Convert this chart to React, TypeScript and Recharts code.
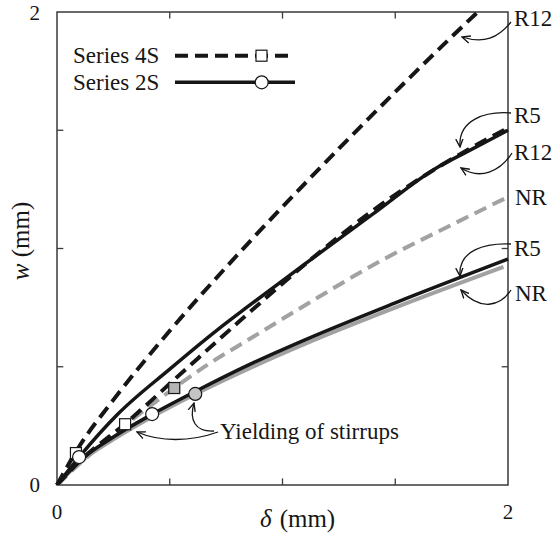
import React from "react";
import {
  ComposedChart,
  Line,
  Scatter,
  XAxis,
  YAxis,
  ReferenceArea,
  ReferenceLine,
  Legend,
  Label,
} from "recharts";

const FONT = '"Liberation Serif", "Times New Roman", serif';
const INK = "#161616";
const GREY = "#a2a2a2";

// delta (mm) / w (mm)
const d4S_R12 = [0, 0.1, 0.25, 0.5, 0.75, 1.0, 1.25, 1.5, 1.75, 2.0];
const w4S_R12 = [0, 0.165, 0.36, 0.652, 0.921, 1.176, 1.422, 1.662, 1.895, 2.12];

const d4S_R5 = [0, 0.1, 0.3, 0.56, 0.83, 1.14, 1.4, 1.6, 1.79, 2.0];
const w4S_R5 = [0, 0.1, 0.257, 0.48, 0.71, 0.965, 1.16, 1.29, 1.4, 1.51];

const d4S_NR = [0, 0.1, 0.3, 0.52, 0.67, 0.85, 1.1, 1.44, 1.75, 2.0];
const w4S_NR = [0, 0.09, 0.25, 0.41, 0.51, 0.615, 0.76, 0.95, 1.1, 1.218];

const d2S_R12 = [0, 0.1, 0.27, 0.5, 0.71, 0.85, 1.1, 1.4, 1.69, 1.8, 2.0];
const w2S_R12 = [0, 0.12, 0.3, 0.49, 0.655, 0.757, 0.935, 1.145, 1.345, 1.4, 1.5];

const d2S_R5 = [0, 0.1, 0.25, 0.42, 0.6, 0.85, 1.1, 1.5, 2.0];
const w2S_R5 = [0, 0.102, 0.203, 0.298, 0.389, 0.508, 0.614, 0.77, 0.955];

const d2S_NR = [0, 0.1, 0.25, 0.42, 0.61, 0.85, 1.12, 1.5, 1.98];
const w2S_NR = [0, 0.095, 0.193, 0.288, 0.383, 0.492, 0.605, 0.75, 0.922];

// yielding of stirrups: [R12, R5, NR]
const yieldD4S = [0.084, 0.302, 0.52];
const yieldW4S = [0.135, 0.257, 0.41];
const yieldD2S = [0.098, 0.422, 0.613];
const yieldW2S = [0.118, 0.3, 0.385];

const axisTicks = [0, 2];
const innerTicks = [0.5, 1, 1.5];

const zip = (xs: number[], ys: number[]) => xs.map((x, i) => ({ x, y: ys[i] }));

const square = (fill: string) => (p: any) => (
  <rect x={p.cx - 5.5} y={p.cy - 5.5} width={11} height={11} fill={fill} stroke={INK} strokeWidth={1.2} />
);
const circle = (fill: string) => (p: any) => (
  <circle cx={p.cx} cy={p.cy} r={6.5} fill={fill} stroke={INK} strokeWidth={1.2} />
);

function LegendBox() {
  return (
    <svg width={240} height={60} style={{ display: "block", overflow: "visible" }}>
      <g fontFamily={FONT} fontSize={23} fill={INK}>
        <text x={7} y={25}>Series 4S</text>
        <text x={7} y={52}>Series 2S</text>
      </g>
      <line x1={109} y1={17.7} x2={229} y2={17.7} stroke={INK} strokeWidth={4} strokeDasharray="13 7" />
      <rect x={190} y={12.2} width={11} height={11} fill="#fff" stroke={INK} strokeWidth={1.2} />
      <line x1={109} y1={44.3} x2={229} y2={44.3} stroke={INK} strokeWidth={3.5} />
      <circle cx={195.7} cy={44.3} r={6.5} fill="#fff" stroke={INK} strokeWidth={1.2} />
    </svg>
  );
}

function Notes() {
  const a = { fill: "none", stroke: INK, strokeWidth: 1.3, markerEnd: "url(#ah)" };
  return (
    <svg width={555} height={534} style={{ position: "absolute", left: 0, top: 0, pointerEvents: "none" }}>
      <defs>
        <marker id="ah" viewBox="0 0 10 10" refX="9" refY="5" markerWidth="7" markerHeight="7" orient="auto-start-reverse">
          <path d="M0,1 L9,5 L0,9" fill="none" stroke={INK} strokeWidth={1.5} />
        </marker>
      </defs>
      <g fontFamily={FONT} fontSize={23} fill={INK}>
        <text x={514} y={26}>R12</text>
        <text x={514} y={123}>R5</text>
        <text x={514} y={160}>R12</text>
        <text x={515} y={205}>NR</text>
        <text x={514} y={256}>R5</text>
        <text x={515} y={301}>NR</text>
        <text x={220} y={439}>Yielding of stirrups</text>
      </g>
      <path d="M511,22 C498,38 484,44 462,37" {...a} />
      <path d="M511,113 C485,111 458,120 460,147" {...a} />
      <path d="M512,153 C500,172 480,180 461,168" {...a} />
      <path d="M511,244 C485,243 458,250 460,276" {...a} />
      <path d="M511,290 C500,307 480,311 461,290" {...a} />
      <path d="M218,432 C190,442 160,442 137,432" {...a} />
      <path d="M214,431 C195,432 189,420 194,403" {...a} />
    </svg>
  );
}

export default function App() {
  const tickStyle = { fontFamily: FONT, fontSize: 21, fill: INK };
  return (
    <div style={{ position: "absolute", left: 0, top: 0, width: 555, height: 534, background: "#fff" }}>
      <ComposedChart width={555} height={534} margin={{ top: 12, right: 47, bottom: 0, left: 0 }}>
        <XAxis
          dataKey="x"
          type="number"
          domain={[0, 2]}
          ticks={axisTicks}
          tick={tickStyle}
          tickLine={false}
          axisLine={false}
          tickSize={0}
          tickMargin={19}
          height={49}
        >
          <Label
            content={(props: any) => {
              const vb = props.viewBox;
              return (
                <text x={vb.x + 203} y={vb.y + 42} fontFamily={FONT} fontSize={25} fill={INK}>
                  <tspan fontStyle="italic">δ</tspan>
                  <tspan dx={8}>(mm)</tspan>
                </text>
              );
            }}
          />
        </XAxis>
        <YAxis
          dataKey="y"
          type="number"
          domain={[0, 2]}
          allowDataOverflow
          ticks={axisTicks}
          tick={tickStyle}
          tickLine={false}
          axisLine={false}
          tickSize={0}
          tickMargin={17}
          width={57}
        >
          <Label
            content={(props: any) => {
              const vb = props.viewBox;
              const cx = vb.x + 20;
              const cy = vb.y + vb.height / 2 - 7.5;
              return (
                <text
                  x={cx}
                  y={cy}
                  transform={`rotate(-90, ${cx}, ${cy})`}
                  textAnchor="middle"
                  dominantBaseline="central"
                  fontFamily={FONT}
                  fontSize={25}
                  fill={INK}
                >
                  <tspan fontStyle="italic">w</tspan> (mm)
                </text>
              );
            }}
          />
        </YAxis>

        <ReferenceArea x1={0} x2={2} y1={0} y2={2} fill="none" stroke="#3a3a3a" strokeWidth={1.5} />
        {innerTicks.map((t) => (
          <ReferenceLine key={"b" + t} segment={[{ x: t, y: 0 }, { x: t, y: 0.028 }]} stroke="#3a3a3a" strokeWidth={1.3} />
        ))}
        {innerTicks.map((t) => (
          <ReferenceLine key={"t" + t} segment={[{ x: t, y: 2 }, { x: t, y: 1.972 }]} stroke="#3a3a3a" strokeWidth={1.3} />
        ))}
        {innerTicks.map((t) => (
          <ReferenceLine key={"l" + t} segment={[{ x: 0, y: t }, { x: 0.028, y: t }]} stroke="#3a3a3a" strokeWidth={1.3} />
        ))}
        {innerTicks.map((t) => (
          <ReferenceLine key={"r" + t} segment={[{ x: 2, y: t }, { x: 1.972, y: t }]} stroke="#3a3a3a" strokeWidth={1.3} />
        ))}

        <Line data={zip(d2S_NR, w2S_NR)} dataKey="y" type="monotone" stroke={GREY} strokeWidth={4} dot={false} isAnimationActive={false} />
        <Line data={zip(d4S_NR, w4S_NR)} dataKey="y" type="monotone" stroke={GREY} strokeWidth={4} strokeDasharray="13 7" dot={false} isAnimationActive={false} />
        <Line data={zip(d2S_R5, w2S_R5)} dataKey="y" type="monotone" stroke={INK} strokeWidth={3.5} dot={false} isAnimationActive={false} />
        <Line data={zip(d2S_R12, w2S_R12)} dataKey="y" type="monotone" stroke={INK} strokeWidth={3.5} dot={false} isAnimationActive={false} />
        <Line data={zip(d4S_R5, w4S_R5)} dataKey="y" type="monotone" stroke={INK} strokeWidth={4} strokeDasharray="13 7" dot={false} isAnimationActive={false} />
        <Line data={zip(d4S_R12, w4S_R12)} dataKey="y" type="monotone" stroke={INK} strokeWidth={4} strokeDasharray="13 7" dot={false} isAnimationActive={false} />

        <Scatter data={zip(yieldD4S, yieldW4S).slice(0, 2)} shape={square("#fff")} isAnimationActive={false} />
        <Scatter data={zip(yieldD4S, yieldW4S).slice(2)} shape={square("#b5b5b5")} isAnimationActive={false} />
        <Scatter data={zip(yieldD2S, yieldW2S).slice(0, 2)} shape={circle("#fff")} isAnimationActive={false} />
        <Scatter data={zip(yieldD2S, yieldW2S).slice(2)} shape={circle("#c4c4c4")} isAnimationActive={false} />

        <Legend
          layout="vertical"
          align="center"
          verticalAlign="middle"
          wrapperStyle={{ left: 66, top: 38, width: 240, height: 60 }}
          content={() => <LegendBox />}
        />
      </ComposedChart>
      <Notes />
    </div>
  );
}
